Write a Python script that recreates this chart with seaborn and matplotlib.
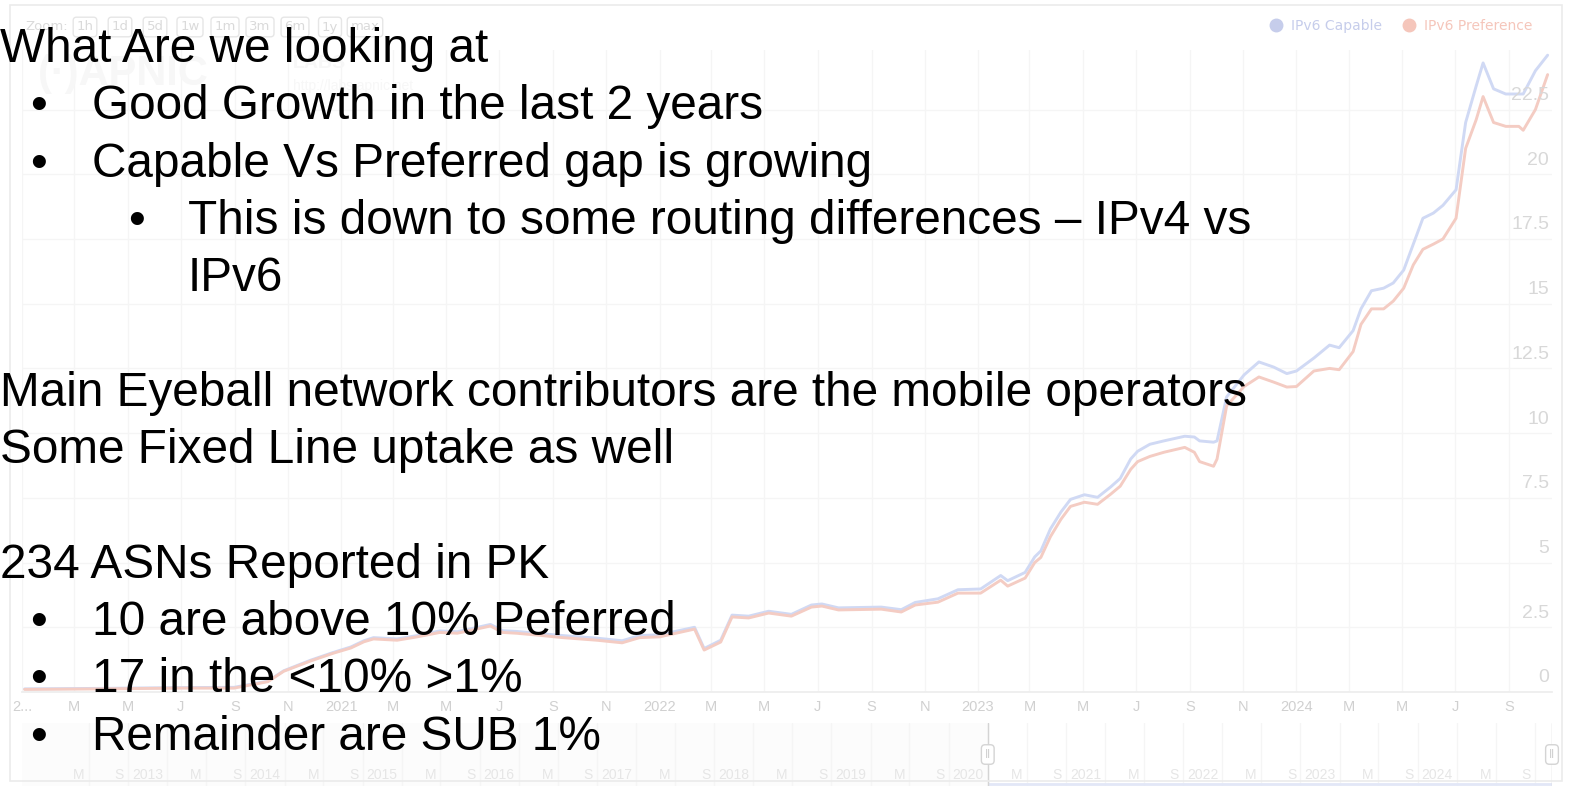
import matplotlib
matplotlib.use("Agg")
import matplotlib.pyplot as plt
from matplotlib.lines import Line2D
from matplotlib.patches import Rectangle
import seaborn as sns
import pandas as pd

# IPv6 use in PK (percent)
dates = [
    "2020-01-04", "2020-04-01", "2020-07-01", "2020-08-31", "2020-10-09", "2020-10-27",
    "2020-11-27", "2020-12-23", "2021-01-12", "2021-01-27", "2021-02-07", "2021-03-06",
    "2021-03-29", "2021-04-24", "2021-05-14", "2021-06-01", "2021-06-21", "2021-07-05",
    "2021-07-21", "2021-08-13", "2021-09-12", "2021-10-21", "2021-11-19", "2021-12-09",
    "2022-01-01", "2022-02-10", "2022-02-21", "2022-03-12", "2022-03-25", "2022-04-13",
    "2022-05-06", "2022-06-01", "2022-06-24", "2022-07-06", "2022-07-25", "2022-09-12",
    "2022-10-05", "2022-10-21", "2022-11-16", "2022-12-09", "2023-01-04", "2023-01-27",
    "2023-02-04", "2023-02-24", "2023-03-07", "2023-03-14", "2023-03-25", "2023-04-06",
    "2023-04-17", "2023-05-03", "2023-05-18", "2023-06-02", "2023-06-13", "2023-06-25",
    "2023-07-03", "2023-07-17", "2023-08-02", "2023-08-26", "2023-09-06", "2023-09-12",
    "2023-09-28", "2023-10-02", "2023-10-13", "2023-11-02", "2023-11-19", "2023-12-06",
    "2023-12-21", "2024-01-01", "2024-01-21", "2024-02-08", "2024-02-19", "2024-03-06",
    "2024-03-15", "2024-03-27", "2024-04-10", "2024-04-21", "2024-05-03", "2024-05-14",
    "2024-05-25", "2024-06-06", "2024-06-17", "2024-07-02", "2024-07-13", "2024-07-25",
    "2024-08-02", "2024-08-14", "2024-08-28", "2024-09-12", "2024-09-17", "2024-10-01",
    "2024-10-15",
]
preference = [
    0.10, 0.12, 0.15, 0.15, 0.40, 0.80,
    1.20, 1.50, 1.70, 1.94, 2.05, 2.00,
    2.13, 2.30, 2.27, 2.40, 2.55, 2.30,
    2.27, 2.20, 2.10, 2.00, 1.90, 2.10,
    2.13, 2.43, 1.62, 1.93, 2.90, 2.86,
    3.05, 2.93, 3.28, 3.32, 3.17, 3.20,
    3.09, 3.36, 3.47, 3.82, 3.82, 4.32,
    4.09, 4.40, 5.00, 5.20, 6.00, 6.67,
    7.17, 7.33, 7.25, 7.64, 7.95, 8.60,
    8.90, 9.10, 9.26, 9.45, 9.26, 8.90,
    8.72, 9.00, 11.05, 11.80, 12.17, 11.97,
    11.78, 11.80, 12.40, 12.50, 12.45, 13.15,
    14.20, 14.80, 14.80, 15.10, 15.60, 16.50,
    17.10, 17.30, 17.50, 18.30, 21.00, 22.10,
    23.00, 22.00, 21.85, 21.85, 21.70, 22.50,
    23.85,
]
capable = [
    0.12, 0.14, 0.17, 0.18, 0.42, 0.82,
    1.23, 1.53, 1.74, 1.98, 2.10, 2.05,
    2.18, 2.36, 2.33, 2.46, 2.61, 2.37,
    2.34, 2.27, 2.18, 2.08, 1.98, 2.18,
    2.21, 2.50, 1.68, 2.00, 2.97, 2.93,
    3.12, 3.00, 3.36, 3.40, 3.25, 3.28,
    3.18, 3.46, 3.60, 3.95, 3.98, 4.50,
    4.30, 4.62, 5.22, 5.45, 6.30, 6.95,
    7.44, 7.62, 7.52, 7.92, 8.25, 9.00,
    9.30, 9.57, 9.70, 9.88, 9.85, 9.70,
    9.65, 9.70, 11.40, 12.25, 12.75, 12.55,
    12.30, 12.40, 12.90, 13.40, 13.30, 13.96,
    14.80, 15.50, 15.60, 15.80, 16.30, 17.30,
    18.30, 18.50, 18.80, 19.40, 22.00, 23.40,
    24.30, 23.30, 23.10, 23.10, 23.10, 24.00,
    24.60,
]

series_names = ["IPv6 Capable", "IPv6 Preference"]
line_colors = ["#d0d9f4", "#f4ccc3"]
legend_colors = ["#c6cdeb", "#f5c6bb"]

y_ticks = [0, 2.5, 5, 7.5, 10, 12.5, 15, 17.5, 20, 22.5]
y_labels = ["0", "2.5", "5", "7.5", "10", "12.5", "15", "17.5", "20", "22.5"]
month_letters = {3: "M", 5: "M", 7: "J", 9: "S", 11: "N"}
nav_letters = {5: "M", 9: "S"}
zoom_buttons = ["1h", "1d", "5d", "1w", "1m", "3m", "6m", "1y", "max"]
x_range = ["2020-01-01", "2024-10-20"]
nav_window = ["2011-10-06", "2024-10-24"]
nav_selected = ["2020-01-01", "2024-10-24"]

# slide text: (indent level, has bullet, text); blank entries are empty lines
slide_text = [
    (0, False, "What Are we looking at"),
    (1, True, "Good Growth in the last 2 years"),
    (1, True, "Capable Vs Preferred gap is growing"),
    (2, True, "This is down to some routing differences \u2013 IPv4 vs"),
    (2, False, "IPv6"),
    (0, False, ""),
    (0, False, "Main Eyeball network contributors are the mobile operators"),
    (0, False, "Some Fixed Line uptake as well"),
    (0, False, ""),
    (0, False, "234 ASNs Reported in PK"),
    (1, True, "10 are above 10% Peferred"),
    (1, True, "17 in the <10% >1%"),
    (1, True, "Remainder are SUB 1%"),
]

W, H = 1572, 786


def fx(px):
    return px / W


def fy(py):
    return 1 - py / H


sns.set_theme(style="white")
plt.rcParams["font.family"] = ["Liberation Sans", "DejaVu Sans"]

fig = plt.figure(figsize=(W / 100, H / 100), dpi=100)

# chart frame
fig.patches.append(Rectangle((fx(10), fy(781)), fx(1562) - fx(10), fy(5) - fy(781),
                             transform=fig.transFigure, fill=False, ec="#ebebeb", lw=1.2))

ax = fig.add_axes([fx(22), fy(692), fx(1552) - fx(22), fy(50) - fy(692)])
df = pd.DataFrame({
    "date": pd.to_datetime(dates * 2),
    "value": capable + preference,
    "series": [series_names[0]] * len(dates) + [series_names[1]] * len(dates),
})
sns.lineplot(data=df, x="date", y="value", hue="series", hue_order=series_names,
             palette=dict(zip(series_names, line_colors)), linewidth=2.1,
             ax=ax, legend=False)

ax.set_xlim(pd.Timestamp(x_range[0]), pd.Timestamp(x_range[1]))
ax.set_ylim(0, 24.8)
ax.set_xlabel("")
ax.set_ylabel("")

ticks = pd.date_range(x_range[0], x_range[1], freq="2MS")
labels = []
for t in ticks:
    labels.append(str(t.year) if t.month == 1 else month_letters[t.month])
labels[0] = "2..."
ax.set_xticks(ticks)
ax.set_xticklabels(labels, color="#d0d0d0", fontsize=10.5)
ax.set_yticks(y_ticks)
ax.set_yticklabels([])
ax.tick_params(axis="both", length=0, pad=6)
ax.grid(True, color="#f5f5f5", lw=1)
for side in ["top", "left", "right"]:
    ax.spines[side].set_visible(False)
ax.spines["bottom"].set_color("#ededed")

for v, lab in zip(y_ticks, y_labels):
    ax.annotate(lab, xy=(1, v), xycoords=ax.get_yaxis_transform(), xytext=(-2, 4),
                textcoords="offset points", ha="right", va="bottom",
                fontsize=14, color="#d8d8d8")

# legend
handles = [Line2D([], [], marker="o", ls="", ms=9, color=c) for c in legend_colors]
leg = fig.legend(handles, series_names, loc="center right", bbox_to_anchor=(fx(1545), fy(26)),
                 ncol=2, frameon=False, handletextpad=0.1, columnspacing=0.9,
                 prop={"family": ["DejaVu Sans"], "size": 10})
for txt, c in zip(leg.get_texts(), legend_colors):
    txt.set_color(c)

# zoom buttons and watermark
fig.text(fx(25), fy(26), "Zoom:", fontsize=9.5, color="#dadada", va="center",
         family=["DejaVu Sans"])
for i, b in enumerate(zoom_buttons):
    fig.text(fx(85 + i * 35), fy(27), b, fontsize=9.5, color="#dadada", ha="center",
             va="center", family=["DejaVu Sans"],
             bbox=dict(boxstyle="round,pad=0.25", fc="white", ec="#e6e6e6", lw=1))
fig.text(fx(38), fy(74), "(\u00b7)APNIC", fontsize=30, weight="bold", color="#f7f7f7",
         va="center")
fig.text(fx(293), fy(64), "LABS", fontsize=14, weight="bold", color="#f7f7f7", va="center")
fig.text(fx(293), fy(86), "http://labs.apnic.net", fontsize=10, color="#f7f7f7",
         va="center")

# navigator strip
nav = fig.add_axes([fx(22), fy(786), fx(1552) - fx(22), fy(723) - fy(786)])
nav.set_xlim(pd.Timestamp(nav_window[0]), pd.Timestamp(nav_window[1]))
nav.set_ylim(0, 1)
nav.axis("off")
nav_ticks = pd.date_range("2012-05-01", nav_window[1], freq="4MS")
for t in nav_ticks:
    nav.axvline(t, color="#f5f5f5", lw=1)
    lab = str(t.year) if t.month == 1 else nav_letters[t.month]
    nav.annotate(lab, xy=(t, 0.17), xycoords=("data", "axes fraction"), xytext=(-3, 0),
                 textcoords="offset points", ha="right", va="center",
                 fontsize=10, color="#e6e6e6")
nav.axvspan(pd.Timestamp(nav_window[0]), pd.Timestamp(nav_selected[0]),
            color="#f7f7f7", alpha=0.35, lw=0)
nav.hlines(0.03, pd.Timestamp(nav_selected[0]), pd.Timestamp(nav_selected[1]),
           color="#e2e7f7", lw=2)
for d in nav_selected:
    nav.axvline(pd.Timestamp(d), color="#d4d4d4", lw=1)
    nav.text(pd.Timestamp(d), 0.5, "\u2016", ha="center", va="center", fontsize=9,
             color="#cccccc", transform=nav.get_xaxis_transform(),
             bbox=dict(boxstyle="round,pad=0.3", fc="white", ec="#d4d4d4", lw=1))

# slide overlay text
indent = {0: 0, 1: 92, 2: 188}
bullet_x = {1: 30, 2: 128}
for i, (level, bullet, text) in enumerate(slide_text):
    base = 62 + i * 57.3
    if bullet:
        fig.text(fx(bullet_x[level]), fy(base), "\u2022", fontsize=34.4, color="black",
                 va="baseline", ha="left")
    if text:
        fig.text(fx(indent[level]), fy(base), text, fontsize=34.4, color="black",
                 va="baseline", ha="left")

fig.savefig("out.png", dpi=100)
